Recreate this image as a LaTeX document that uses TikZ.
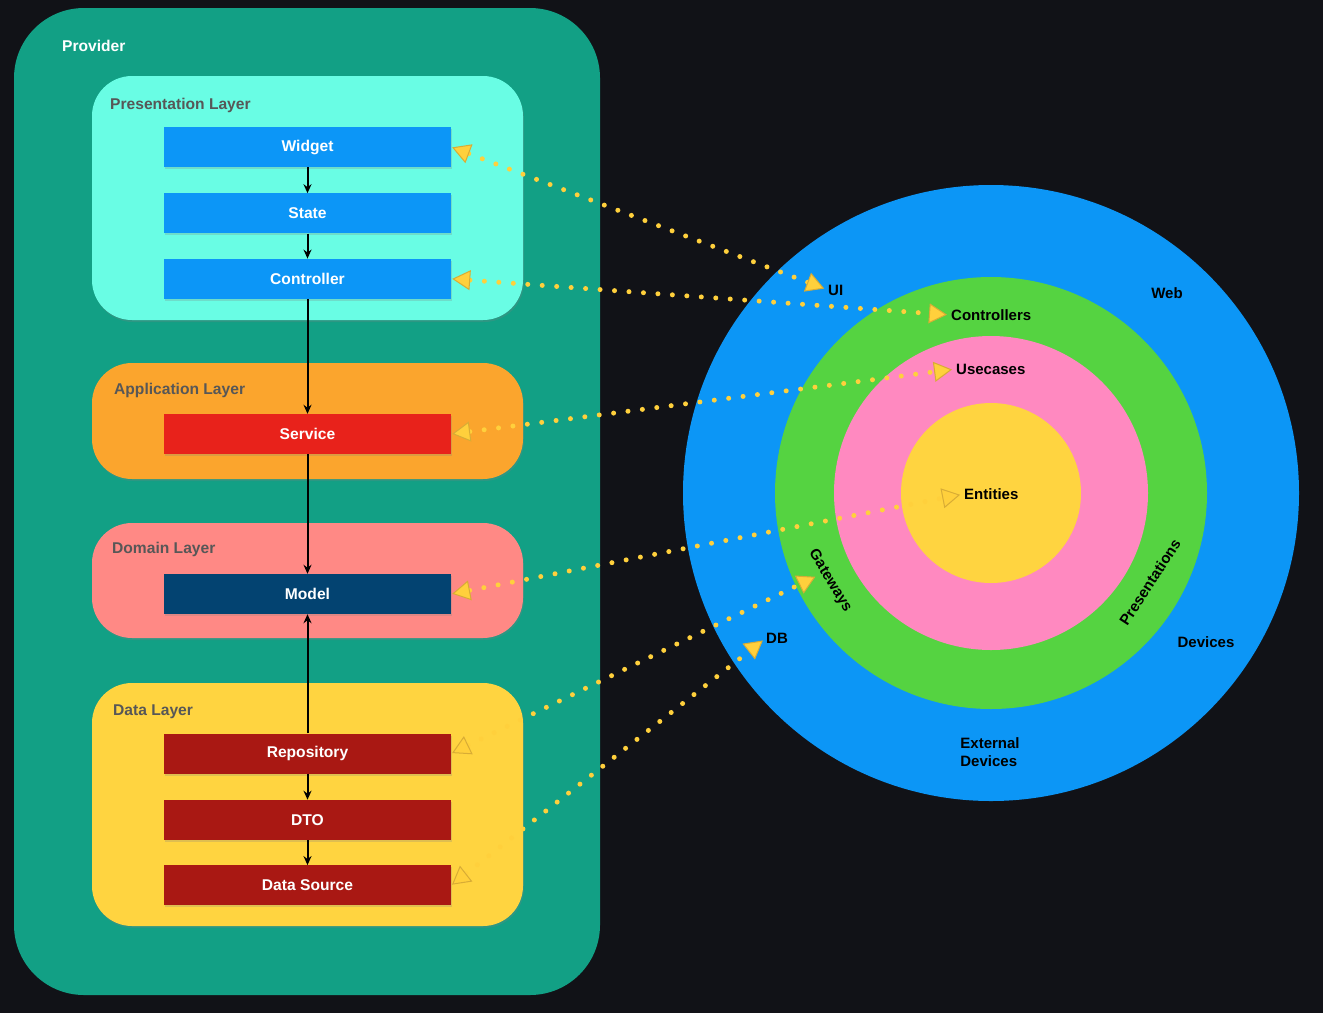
\documentclass[tikz,border=0pt]{standalone}
\usepackage{fontspec}
\setmainfont{Liberation Sans}
\usetikzlibrary{positioning,arrows.meta,shadows}

\definecolor{bgDark}{HTML}{111217}
\definecolor{providerTeal}{HTML}{12A085}
\definecolor{presAqua}{HTML}{69FDE4}
\definecolor{compBlue}{HTML}{0C96F7}
\definecolor{appOrange}{HTML}{FBA52D}
\definecolor{serviceRed}{HTML}{E8221B}
\definecolor{domSalmon}{HTML}{FF8985}
\definecolor{modelNavy}{HTML}{034371}
\definecolor{dataYellow}{HTML}{FFD440}
\definecolor{dataRed}{HTML}{A91813}
\definecolor{titleGrey}{HTML}{575757}
\definecolor{ringBlue}{HTML}{0C96F6}
\definecolor{ringGreen}{HTML}{55D341}
\definecolor{ringPink}{HTML}{FF89C0}
\definecolor{ringYellow}{HTML}{FFD440}
\definecolor{dotYellow}{HTML}{FFD03C}
\definecolor{tipEdge}{HTML}{D8AC35}

\begin{document}
\begin{tikzpicture}[
        x=1pt, y=-1pt,
        every node/.style={font=\bfseries\fontsize{15.6}{18}\selectfont},
        layerbox/.style={rectangle, rounded corners=40pt, minimum width=431pt, drop shadow={opacity=0.25, shadow xshift=1pt, shadow yshift=-2pt}},
        comp/.style={rectangle, minimum width=287pt, minimum height=40pt, text=white, drop shadow={opacity=0.25, shadow xshift=1pt, shadow yshift=-2pt}},
        layertitle/.style={anchor=west, inner sep=0pt, text=titleGrey},
        ring/.style={circle, inner sep=0pt},
        lbl/.style={inner sep=0pt, text=black, font=\bfseries\fontsize{15}{18}\selectfont},
        flow/.style={-{Stealth[length=9pt, width=8pt]}, line width=2pt, black},
        link/.style={{Triangle[length=18pt, width=20pt, line width=1pt, color=tipEdge, fill=dotYellow]}-{Triangle[length=18pt, width=20pt, line width=1pt, color=tipEdge, fill=dotYellow]},
            draw=dotYellow, line width=5pt, line cap=round, dash pattern=on 0pt off 14.5pt, shorten >=4pt, shorten <=1pt}
    ]

        \path[use as bounding box, fill=bgDark] (0,0) rectangle (1323,1013);

        % provider frame with the four layers
        \node (provider) [rectangle, rounded corners=70pt, fill=providerTeal, minimum width=586pt, minimum height=987pt] at (307,501.5) {};
        \node (providerTitle) [anchor=west, inner sep=0pt, text=white] at (62,46) {Provider};

        \node (presLayer) [layerbox, fill=presAqua, minimum height=244pt] at (307.5,198) {};
        \node (presTitle) [layertitle] at (110,105) {Presentation Layer};
        \node (widget) [comp, fill=compBlue] at (307.5,147) {Widget};
        \node (state) [comp, fill=compBlue, below=26pt of widget] {State};
        \node (controller) [comp, fill=compBlue, below=25pt of state] {Controller};

        \node (appLayer) [layerbox, fill=appOrange, minimum height=116pt] at (307.5,421) {};
        \node (appTitle) [layertitle] at (114,390) {Application Layer};
        \node (service) [comp, fill=serviceRed] at (307.5,434) {Service};

        \node (domLayer) [layerbox, fill=domSalmon, minimum height=115pt] at (307.5,580.5) {};
        \node (domTitle) [layertitle] at (112,549) {Domain Layer};
        \node (model) [comp, fill=modelNavy] at (307.5,594) {Model};

        \node (dataLayer) [layerbox, fill=dataYellow, minimum height=243pt] at (307.5,804.5) {};
        \node (dataTitle) [layertitle] at (113,712) {Data Layer};
        \node (repo) [comp, fill=dataRed] at (307.5,753.5) {Repository};
        \node (dto) [comp, fill=dataRed, below=26pt of repo] {DTO};
        \node (source) [comp, fill=dataRed, below=25pt of dto] {Data Source};

        \draw[flow] (widget) -- (state);
        \draw[flow] (state) -- (controller);
        \draw[flow] (controller) -- (service);
        \draw[flow] (service) -- (model);
        \draw[flow] (repo) -- (model);
        \draw[flow] (repo) -- (dto);
        \draw[flow] (dto) -- (source);

        % clean architecture rings
        \node (outerRing) [ring, fill=ringBlue, minimum size=616pt] at (991,493) {};
        \node (adapterRing) [ring, fill=ringGreen, minimum size=432pt] at (991,493) {};
        \node (useRing) [ring, fill=ringPink, minimum size=314pt] at (991,493) {};
        \node (coreRing) [ring, fill=ringYellow, minimum size=180pt] at (991,493) {};

        \node (ui) [lbl, anchor=west] at (828,290) {UI};
        \node (web) [lbl] at (1167,293) {Web};
        \node (ctrls) [lbl, anchor=west] at (951,315) {Controllers};
        \node (usecases) [lbl, anchor=west] at (956,369) {Usecases};
        \node (entities) [lbl, anchor=west] at (964,494) {Entities};
        \node (gateways) [lbl, rotate=-59] at (830,581) {Gateways};
        \node (presents) [lbl, rotate=57] at (1150,582) {Presentations};
        \node (db) [lbl, anchor=west] at (766,638) {DB};
        \node (devices) [lbl] at (1206,642) {Devices};
        \node (extDevices) [lbl, align=left] at (990,752) {External\\Devices};
        \coordinate (gwTip) at (819,575);

        \draw[link] (widget.east) -- (ui.west);
        \draw[link] (controller.east) -- (ctrls.west);
        \draw[link] (service.east) -- (usecases.west);
        \draw[link] (model.east) -- (entities.west);
        \draw[link] (repo.east) -- (gwTip);
        \draw[link] (source.east) -- (db.west);

    \end{tikzpicture}
\end{document}
